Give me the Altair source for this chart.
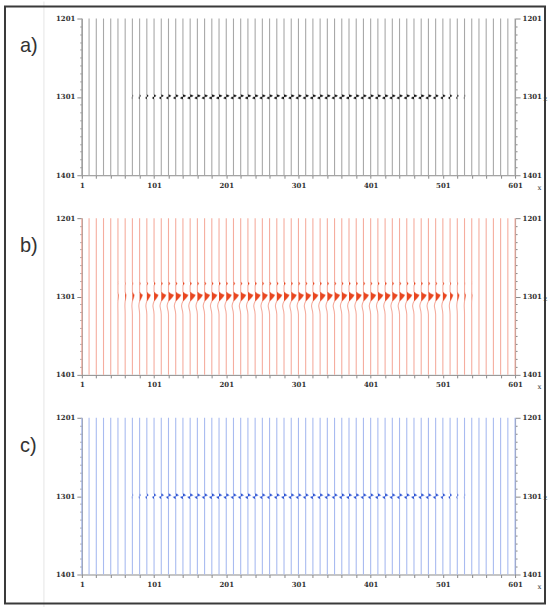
import altair as alt
import pandas as pd

# ---------------- data ----------------
TRACE_X = list(range(1, 602, 10))  # 61 trace positions (x)

# relative event amplitude per trace
AMP_A = [0, 0, 0, 0, 0, 0, 0, 0.15, 0.3, 0.45, 0.6, 0.7, 0.8, 0.85, 0.95,
         1.0, 1.0, 1.0, 1.0, 1.0, 1.0, 1.0, 1.0, 1.0, 1.0, 1.0, 1.0, 1.0, 1.0, 1.0,
         1.0, 1.0, 1.0, 1.0, 1.0, 1.0, 1.0, 1.0, 1.0, 1.0, 1.0, 1.0, 1.0, 1.0, 1.0,
         1.0, 1.0, 1.0, 1.0, 0.9, 0.8, 0.6, 0.35, 0.15, 0, 0, 0, 0, 0, 0, 0]
AMP_B = [0, 0, 0, 0, 0, 0.08, 0.18, 0.35, 0.55, 0.7, 0.8, 0.9, 1.0, 1.0, 1.0,
         1.0, 1.0, 1.0, 1.0, 1.0, 1.0, 1.0, 1.0, 1.0, 1.0, 1.0, 1.0, 1.0, 1.0, 1.0,
         1.0, 1.0, 1.0, 1.0, 1.0, 1.0, 1.0, 1.0, 1.0, 1.0, 1.0, 1.0, 1.0, 1.0, 1.0,
         1.0, 1.0, 1.0, 1.0, 0.9, 0.75, 0.55, 0.35, 0.2, 0.08, 0, 0, 0, 0, 0, 0]
AMP_C = [0, 0, 0, 0, 0, 0, 0, 0.15, 0.3, 0.5, 0.65, 0.8, 0.9, 1.0, 1.0,
         1.0, 1.0, 1.0, 1.0, 1.0, 1.0, 1.0, 1.0, 1.0, 1.0, 1.0, 1.0, 1.0, 1.0, 1.0,
         1.0, 1.0, 1.0, 1.0, 1.0, 1.0, 1.0, 1.0, 1.0, 1.0, 1.0, 1.0, 1.0, 1.0, 1.0,
         1.0, 1.0, 1.0, 1.0, 1.0, 0.8, 0.55, 0.3, 0.12, 0, 0, 0, 0, 0, 0, 0]

# wavelet samples: depth offset from 1301 and normalised value
WAV_A_OFF = [-3, -1.8, -0.6, 0.4, 1.6, 3]
WAV_A_VAL = [0, 1.0, 0.8, -0.7, -0.9, 0]
WAV_B_OFF = [-19, -16.5, -14, -6, -4, -2, 0, 2, 4, 6, 9, 12, 15, 19, 23]
WAV_B_VAL = [0, 0.25, 0, 0, 0.35, 1.0, 0.85, 0.6, 0.3, 0, -0.2, -0.28, -0.2, -0.06, 0]
WAV_C_OFF = [-3.5, -2.2, -1, 0, 1, 2.2, 3.5]
WAV_C_VAL = [0, 0.7, 1.0, 0.1, -0.9, -0.6, 0]

GAIN_A, GAIN_B, GAIN_C = 3.8, 7.0, 3.6
Z_TOP, Z_MID, Z_BOT = 1201, 1301, 1401
PANEL_LABELS = ["a)", "b)", "c)"]

W, H = 434, 157
FONT = "DejaVu Serif"


def build(amps, offs, vals):
    rows = []
    for tx, a in zip(TRACE_X, amps):
        rows.append({"trace": tx, "z": Z_TOP, "w": 0.0, "amp": a})
        for o, v in zip(offs, vals):
            rows.append({"trace": tx, "z": Z_MID + o, "w": v, "amp": a})
        rows.append({"trace": tx, "z": Z_BOT, "w": 0.0, "amp": a})
    return pd.DataFrame(rows)


yscale = alt.Scale(domain=[Z_TOP, Z_BOT], reverse=True, nice=False, zero=False)
xscale = alt.Scale(domain=[1, 601], nice=False, zero=False)

tick_cond = {"condition": {"test": "(datum.value - 1201) % 100 == 0", "value": 5}, "value": 2}

axis_common = dict(grid=False, domainColor="#8a8a8a", tickColor="#8a8a8a",
                   labelFont=FONT, labelFontSize=7, labelColor="#333333",
                   labelFontWeight="bold", format="d", labelOverlap=False)

x_axis = alt.Axis(values=list(range(1, 602, 20)),
                  labelExpr="(datum.value - 1) % 100 == 0 ? datum.label : ''",
                  tickSize=3, labelPadding=3, labelFlush=False,
                  title="x", titleAngle=0, titleX=456, titleY=12,
                  titleAlign="left", titleBaseline="middle", titleFont=FONT,
                  titleFontSize=7, titleFontWeight="normal", titleColor="#333333",
                  **axis_common)
y_left = alt.Axis(orient="left", values=list(range(1201, 1402, 10)),
                  labelExpr="(datum.value - 1201) % 100 == 0 ? datum.label : ''",
                  tickSize=tick_cond, labelPadding=2, title=None, labelFlush=False,
                  **axis_common)
y_right = alt.Axis(orient="right", values=list(range(1201, 1402, 10)),
                   labelExpr="(datum.value - 1201) % 100 == 0 ? datum.label : ''",
                   tickSize=tick_cond, labelPadding=2, labelFlush=False,
                   title="z", titleAngle=0, titleX=28, titleY=80,
                   titleAlign="left", titleBaseline="middle", titleFont=FONT,
                   titleFontSize=7, titleFontWeight="normal", titleColor="#333333",
                   **axis_common)


def panel(amps, offs, vals, gain, line_col, fill_col, both_sides, label, extra=None):
    df = build(amps, offs, vals)
    base = alt.Chart(df).transform_calculate(
        xw=f"datum.trace + {gain} * datum.amp * datum.w",
        xf=(f"datum.trace + {gain} * datum.amp * datum.w" if both_sides
            else f"datum.trace + {gain} * datum.amp * max(datum.w, 0)"),
    )
    lines = base.mark_line(color=line_col, strokeWidth=1.1).encode(
        x=alt.X("xw:Q", scale=xscale, axis=x_axis),
        y=alt.Y("z:Q", scale=yscale, axis=y_left),
        detail="trace:N",
        order="z:Q",
    )
    fill = base.transform_filter("datum.amp > 0").mark_area(
        orient="horizontal", color=fill_col, opacity=1).encode(
        x=alt.X("xf:Q", scale=xscale, axis=x_axis),
        x2=alt.X2("trace:Q"),
        y=alt.Y("z:Q", scale=yscale, axis=y_right),
        detail="trace:N",
    )
    lab = alt.Chart(pd.DataFrame({"t": [label]})).mark_text(
        font="Liberation Sans", fontSize=20, color="#333333", align="left",
        baseline="middle").encode(
        text="t:N", x=alt.value(-62), y=alt.value(28))
    layers = [lines, fill, lab]
    if extra:
        layers = extra + layers
    return alt.layer(*layers).resolve_axis(y="independent").properties(width=W, height=H)


one = pd.DataFrame({"k": [0]})
frame = alt.Chart(one).mark_rect(fillOpacity=0, stroke="#3a3a3a", strokeWidth=2).encode(
    x=alt.value(-77), x2=alt.value(464), y=alt.value(-12), y2=alt.value(586))
vline = alt.Chart(one).mark_rule(color="#e6e6e6", strokeWidth=1).encode(
    x=alt.value(-38), y=alt.value(-17), y2=alt.value(590))

pa = panel(AMP_A, WAV_A_OFF, WAV_A_VAL, GAIN_A, "#a8a8a8", "#111111", True,
           PANEL_LABELS[0], extra=[vline, frame])
pb = panel(AMP_B, WAV_B_OFF, WAV_B_VAL, GAIN_B, "#f5ad9f", "#e8461f", False,
           PANEL_LABELS[1])
pc = panel(AMP_C, WAV_C_OFF, WAV_C_VAL, GAIN_C, "#a9bbf0", "#2a50d2", True,
           PANEL_LABELS[2])

chart = alt.vconcat(pa, pb, pc, spacing=43, bounds="flush").properties(
    padding={"left": 4, "top": 0, "right": 3, "bottom": 0},
    background="white",
).configure_view(strokeOpacity=0)

chart.save("out.html", embed_options={"renderer": "svg", "actions": False})
